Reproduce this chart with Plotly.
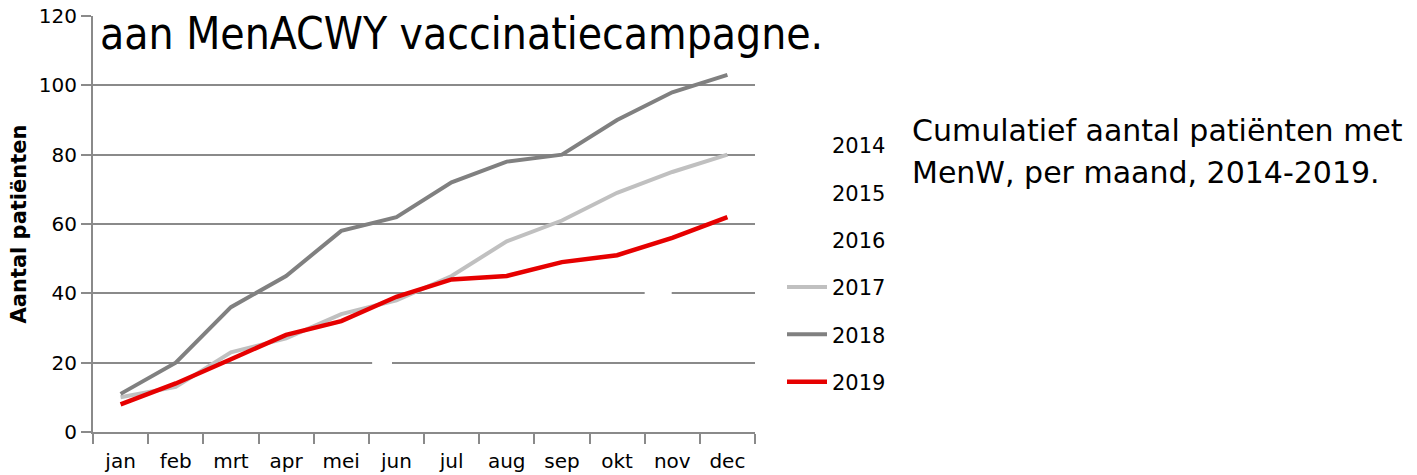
import plotly.graph_objects as go

months = ["jan", "feb", "mrt", "apr", "mei", "jun", "jul", "aug", "sep", "okt", "nov", "dec"]
years = ["2014", "2015", "2016", "2017", "2018", "2019"]
y2014 = [None] * 12
y2015 = [None] * 12
y2016 = [None] * 12
y2017 = [10, 13, 23, 27, 34, 38, 45, 55, 61, 69, 75, 80]
y2018 = [11, 20, 36, 45, 58, 62, 72, 78, 80, 90, 98, 103]
y2019 = [8, 14, 21, 28, 32, 39, 44, 45, 49, 51, 56, 62]
series = [y2014, y2015, y2016, y2017, y2018, y2019]
colors = ["rgba(0,0,0,0)", "rgba(0,0,0,0)", "rgba(0,0,0,0)", "#c0c0c0", "#808080", "#e60000"]
widths = [4, 4, 4, 4, 4, 4.5]
y_ticks = [0, 20, 40, 60, 80, 100, 120]

title_text = "aan MenACWY vaccinatiecampagne."
side_line1 = "Cumulatief aantal patiënten met"
side_line2 = "MenW, per maand, 2014-2019."
y_title = "Aantal patiënten"

FONT = "DejaVu Sans"
GRID = "#8a8a8a"
T, B = 16, 43
PH = 475 - T - B
def py(px):
    return (475 - B - px) / PH
def pxx(px):
    return (px - 93) / 662

fig = go.Figure()
for name, vals, col, w in zip(years, series, colors, widths):
    fig.add_trace(go.Scatter(
        x=months, y=vals, mode="lines", name=name, legendgroup=name,
        line=dict(color=col, width=w), connectgaps=False,
    ))

fig.update_layout(
    width=1417, height=475,
    margin=dict(l=93, r=662, t=T, b=B, autoexpand=False),
    paper_bgcolor="white", plot_bgcolor="white",
    font=dict(family=FONT, size=20, color="black"),
    showlegend=True,
    legend=dict(
        x=pxx(782), xanchor="left", y=py(125), yanchor="top",
        font=dict(family=FONT, size=21, color="black"),
        tracegroupgap=17, traceorder="grouped",
        bgcolor="rgba(0,0,0,0)", borderwidth=0, itemwidth=40,
    ),
    xaxis=dict(
        type="category", range=[-0.5, 11.5], automargin=False,
        showgrid=False, showline=True, linecolor=GRID, linewidth=2,
        ticks="outside", tickson="boundaries", ticklen=10, tickwidth=2, tickcolor=GRID,
        ticklabelstandoff=10,
        tickfont=dict(family=FONT, size=20, color="black"),
    ),
    yaxis=dict(
        range=[0, 120], tickvals=y_ticks, showgrid=True, gridcolor=GRID, gridwidth=2,
        showline=True, linecolor=GRID, linewidth=2, zeroline=False, automargin=False,
        ticks="outside", ticklen=10, tickwidth=2, tickcolor=GRID,
        tickfont=dict(family=FONT, size=20, color="black"),
        title=dict(text="<b>" + y_title + "</b>", font=dict(family=FONT, size=21, color="black"), standoff=6),
    ),
    annotations=[
        dict(text=title_text, xref="paper", yref="paper", x=pxx(98), y=py(34),
             xanchor="left", yanchor="middle", showarrow=False,
             font=dict(family="DejaVu Sans Condensed", size=44, color="black")),
        dict(text=side_line1, xref="paper", yref="paper", x=pxx(910), y=py(130),
             xanchor="left", yanchor="middle", align="left", showarrow=False,
             font=dict(family=FONT, size=30, color="black")),
        dict(text=side_line2, xref="paper", yref="paper", x=pxx(910), y=py(172),
             xanchor="left", yanchor="middle", align="left", showarrow=False,
             font=dict(family=FONT, size=30, color="black")),
    ],
    shapes=[
        dict(type="line", xref="x", yref="y", x0=4.56, x1=4.92, y0=20, y1=20,
             line=dict(color="white", width=4), layer="between"),
        dict(type="line", xref="x", yref="y", x0=9.5, x1=9.99, y0=40, y1=40,
             line=dict(color="white", width=4), layer="between"),
    ],
)

fig.write_html("out.html", config={"displayModeBar": False},
               post_script="document.body.style.margin='0';document.body.style.overflow='hidden';")
